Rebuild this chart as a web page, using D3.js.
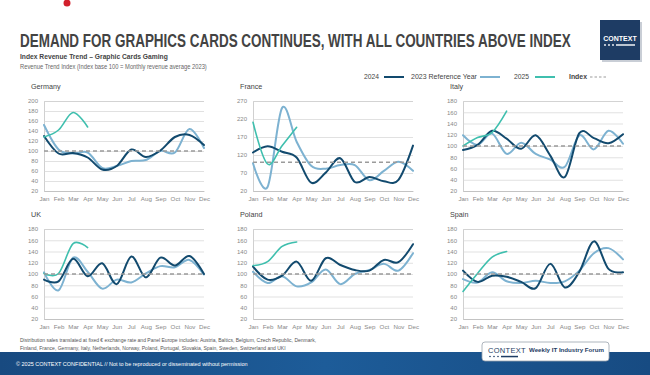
<!DOCTYPE html>
<html>
<head>
<meta charset="utf-8">
<script src="https://cdn.jsdelivr.net/npm/d3@7/dist/d3.min.js"></script>
<style>
  body { margin: 0; background: #fff; }
  svg text { font-family: "Liberation Sans", Arial, sans-serif; }
</style>
</head>
<body>
<svg id="chart" width="650" height="375"></svg>
<script>
// ---- data ----
const months = ['Jan', 'Feb', 'Mar', 'Apr', 'May', 'Jun', 'Jul', 'Aug', 'Sep', 'Oct', 'Nov', 'Dec'];

const germany2023 = [152, 103, 95, 97, 66, 70, 80, 82, 100, 97, 144, 106];
const germany2024 = [130, 95, 96, 87, 63, 70, 103, 88, 101, 128, 132, 112];
const germany2025 = [128, 142, 177, 148];

const france2023 = [97, 31, 251, 157, 90, 82, 92, 92, 50, 76, 101, 76];
const france2024 = [127, 144, 129, 113, 43, 71, 111, 45, 59, 47, 51, 146];
const france2025 = [211, 95, 146, 197];

const italy2023 = [119, 102, 122, 86, 106, 86, 76, 63, 119, 94, 127, 104];
const italy2024 = [93, 102, 127, 113, 95, 119, 83, 45, 123, 114, 105, 121];
const italy2025 = [100, 115, 124, 162];

const uk2023 = [103, 71, 129, 104, 74, 90, 85, 101, 114, 112, 125, 99];
const uk2024 = [90, 87, 127, 96, 119, 82, 131, 94, 129, 115, 132, 100];
const uk2025 = [101, 101, 154, 147];

const poland2023 = [104, 84, 96, 78, 85, 108, 82, 100, 107, 118, 106, 137];
const poland2024 = [113, 90, 97, 122, 88, 128, 116, 107, 106, 125, 121, 153];
const poland2025 = [115, 122, 149, 157];

const spain2023 = [91, 85, 103, 87, 84, 88, 84, 87, 106, 137, 146, 126];
const spain2024 = [106, 86, 97, 95, 86, 75, 118, 76, 104, 158, 109, 103];
const spain2025 = [69, 101, 130, 140];

const indexBase = 100;

// ---- layout ----
const W = 650, H = 375;
const colors = { '2023 Reference Year': '#7db2d1', '2024': '#124a6e', '2025': '#3fbfae', index: '#9b9b9b' };
const textGray = '#444';

const panels = [
    { name: 'Germany', s2023: germany2023, s2024: germany2024, s2025: germany2025, yMax: 200, step: 20, left: 44, top: 101 },
    { name: 'France', s2023: france2023, s2024: france2024, s2025: france2025, yMax: 270, step: 50, left: 253, top: 101 },
    { name: 'Italy', s2023: italy2023, s2024: italy2024, s2025: italy2025, yMax: 180, step: 20, left: 463, top: 101 },
    { name: 'UK', s2023: uk2023, s2024: uk2024, s2025: uk2025, yMax: 180, step: 20, left: 44, top: 229 },
    { name: 'Poland', s2023: poland2023, s2024: poland2024, s2025: poland2025, yMax: 180, step: 20, left: 253, top: 229 },
    { name: 'Spain', s2023: spain2023, s2024: spain2024, s2025: spain2025, yMax: 180, step: 20, left: 463, top: 229 }
];
const plotW = 160, plotH = 90;

const svg = d3.select('#chart');

// squeeze a text horizontally so it looks like the narrow font of the original
function squeeze(sel, k) {
    const x = +sel.attr('x');
    sel.attr('transform', `translate(${x},0) scale(${k},1) translate(${-x},0)`);
    return sel;
}
function fitWidth(sel, width) {
    const len = sel.node().getComputedTextLength();
    return squeeze(sel, Math.min(1, width / len));
}

// red dot top left
svg.append('circle').attr('cx', 67).attr('cy', 3).attr('r', 3.5).attr('fill', '#d2202c');

// title block
fitWidth(svg.append('text')
    .attr('x', 20).attr('y', 47)
    .attr('font-size', 18.5)
    .attr('font-weight', 'bold')
    .attr('fill', '#434343')
    .text('DEMAND FOR GRAPHICS CARDS CONTINUES, WITH ALL COUNTRIES ABOVE INDEX'), 551);

fitWidth(svg.append('text')
    .attr('x', 20).attr('y', 59.5)
    .attr('font-size', 7.4)
    .attr('font-weight', 'bold')
    .attr('fill', '#444')
    .text('Index Revenue Trend – Graphic Cards Gaming'), 148);

fitWidth(svg.append('text')
    .attr('x', 20).attr('y', 69.5)
    .attr('font-size', 6.4)
    .attr('fill', '#666')
    .text('Revenue Trend Index (Index base 100 = Monthly revenue average 2023)'), 187);

// CONTEXT logo top right
const logo = svg.append('g');
logo.append('rect').attr('x', 602).attr('y', 22).attr('width', 40).attr('height', 40).attr('fill', '#c9ced6');
logo.append('rect').attr('x', 600).attr('y', 20).attr('width', 40).attr('height', 40).attr('fill', '#1e3c64');
logo.append('text').attr('x', 620).attr('y', 41).attr('text-anchor', 'middle')
    .attr('font-size', 7).attr('font-weight', 'bold').attr('fill', '#fff').text('CONTEXT');
[605, 609, 613].forEach(cx => logo.append('circle').attr('cx', cx).attr('cy', 45).attr('r', 0.9).attr('fill', '#fff'));
logo.append('rect').attr('x', 616).attr('y', 44.3).attr('width', 19).attr('height', 1.4).attr('fill', '#fff');

// legend
const legend = svg.append('g').attr('font-size', 7.4).attr('fill', textGray);
const legendItems = [
    { label: '2024', key: '2024', tx: 364, tw: 15, lx: 384, lw: 20 },
    { label: '2023 Reference Year', key: '2023 Reference Year', tx: 411, tw: 66, lx: 480, lw: 20 },
    { label: '2025', key: '2025', tx: 514, tw: 15, lx: 535, lw: 20 },
    { label: 'Index', key: 'index', tx: 569, tw: 18, lx: 590, lw: 16 }
];
legendItems.forEach(it => {
    fitWidth(legend.append('text').attr('x', it.tx).attr('y', 79.5)
        .attr('font-weight', it.key === 'index' ? 'bold' : 'normal')
        .text(it.label), it.tw);
    legend.append('line')
        .attr('x1', it.lx).attr('x2', it.lx + it.lw)
        .attr('y1', 77).attr('y2', 77)
        .attr('stroke', colors[it.key])
        .attr('stroke-width', it.key === 'index' ? 1.2 : 2)
        .attr('stroke-dasharray', it.key === 'index' ? '2.5,2' : null);
});

// panels
const line = (x, y) => d3.line()
    .x((d, i) => x(months[i]))
    .y(d => y(d))
    .curve(d3.curveCardinal.tension(0));

panels.forEach(p => {
    const g = svg.append('g');
    const x = d3.scalePoint().domain(months).range([p.left, p.left + plotW]);
    const y = d3.scaleLinear().domain([20, p.yMax]).range([p.top + plotH, p.top]);
    const ticks = d3.range(20, p.yMax + 1, p.step);

    // title
    g.append('text')
        .attr('x', p.left - 13).attr('y', p.top - 12)
        .attr('font-size', 7.2).attr('fill', textGray)
        .text(p.name);

    // y axis with gridlines
    const yAxis = d3.axisLeft(y).tickValues(ticks).tickSize(-plotW).tickPadding(6);
    const yG = g.append('g').attr('transform', `translate(${p.left},0)`).call(yAxis);
    yG.select('.domain').attr('stroke', '#bbb').attr('stroke-width', 0.7);
    yG.selectAll('.tick line').attr('stroke', '#d4d4d4').attr('stroke-width', 0.7);
    yG.selectAll('.tick text').attr('font-size', 6).attr('fill', '#888')
        .attr('font-family', '"Liberation Sans", Arial, sans-serif');

    // x axis labels
    const xAxis = d3.axisBottom(x).tickSize(0).tickPadding(6);
    const xG = g.append('g').attr('transform', `translate(0,${p.top + plotH})`).call(xAxis);
    xG.select('.domain').attr('stroke', '#bbb').attr('stroke-width', 0.7);
    xG.selectAll('.tick text').attr('font-size', 6.2).attr('fill', '#888')
        .attr('font-family', '"Liberation Sans", Arial, sans-serif');

    // series
    const mk = line(x, y);
    [['2023 Reference Year', p.s2023, 2], ['2024', p.s2024, 2], ['2025', p.s2025, 1.6]].forEach(([key, vals, sw]) => {
        g.append('path')
            .datum(vals)
            .attr('d', mk)
            .attr('fill', 'none')
            .attr('stroke', colors[key])
            .attr('stroke-width', sw)
            .attr('stroke-linecap', 'round');
    });

    // index 100 line
    g.append('line')
        .attr('x1', p.left).attr('x2', p.left + plotW)
        .attr('y1', y(indexBase)).attr('y2', y(indexBase))
        .attr('stroke', colors.index)
        .attr('stroke-width', 1.4)
        .attr('stroke-dasharray', '4,3');
});

// footnote
const foot = svg.append('g').attr('font-size', 5.6).attr('fill', '#555');
fitWidth(foot.append('text').attr('x', 20).attr('y', 342.5)
    .text('Distribution sales translated at fixed € exchange rate and Panel Europe includes: Austria, Baltics, Belgium, Czech Republic, Denmark,'), 297);
fitWidth(foot.append('text').attr('x', 20).attr('y', 350)
    .text('Finland, France, Germany, Italy, Netherlands, Norway, Poland, Portugal, Slovakia, Spain, Sweden, Switzerland and UKI'), 266);

// footer band
const defs = svg.append('defs');
const grad = defs.append('linearGradient').attr('id', 'band').attr('x1', 0).attr('x2', 1).attr('y1', 0).attr('y2', 0);
grad.append('stop').attr('offset', 0).attr('stop-color', '#184a80');
grad.append('stop').attr('offset', 0.5).attr('stop-color', '#1d5c99');
grad.append('stop').attr('offset', 1).attr('stop-color', '#174b82');
svg.append('rect').attr('x', 0).attr('y', 352).attr('width', W).attr('height', H - 352).attr('fill', 'url(#band)');

fitWidth(svg.append('text').attr('x', 16).attr('y', 366.5)
    .attr('font-size', 5.6).attr('fill', '#fff')
    .text('© 2025 CONTEXT CONFIDENTIAL // Not to be reproduced or disseminated without permission'), 232);

// badge
const badge = svg.append('g');
badge.append('rect').attr('x', 482).attr('y', 342).attr('width', 127).attr('height', 19).attr('rx', 3)
    .attr('fill', '#fff').attr('stroke', '#9aa3ad').attr('stroke-width', 0.8);
badge.append('text').attr('x', 488).attr('y', 352.5).attr('font-size', 7.5).attr('fill', '#1e3c64')
    .attr('letter-spacing', 0.3).text('CONTEXT');
fitWidth(badge.append('text').attr('x', 529).attr('y', 352.5).attr('font-size', 6.2).attr('font-weight', 'bold').attr('fill', '#1e3c64')
    .text('Weekly IT Industry Forum'), 75);
[490, 494, 498].forEach(cx => badge.append('circle').attr('cx', cx).attr('cy', 356.5).attr('r', 0.8).attr('fill', '#1e3c64'));
badge.append('rect').attr('x', 501).attr('y', 355.8).attr('width', 17).attr('height', 1.5).attr('fill', '#1e3c64');
</script>
</body>
</html>
